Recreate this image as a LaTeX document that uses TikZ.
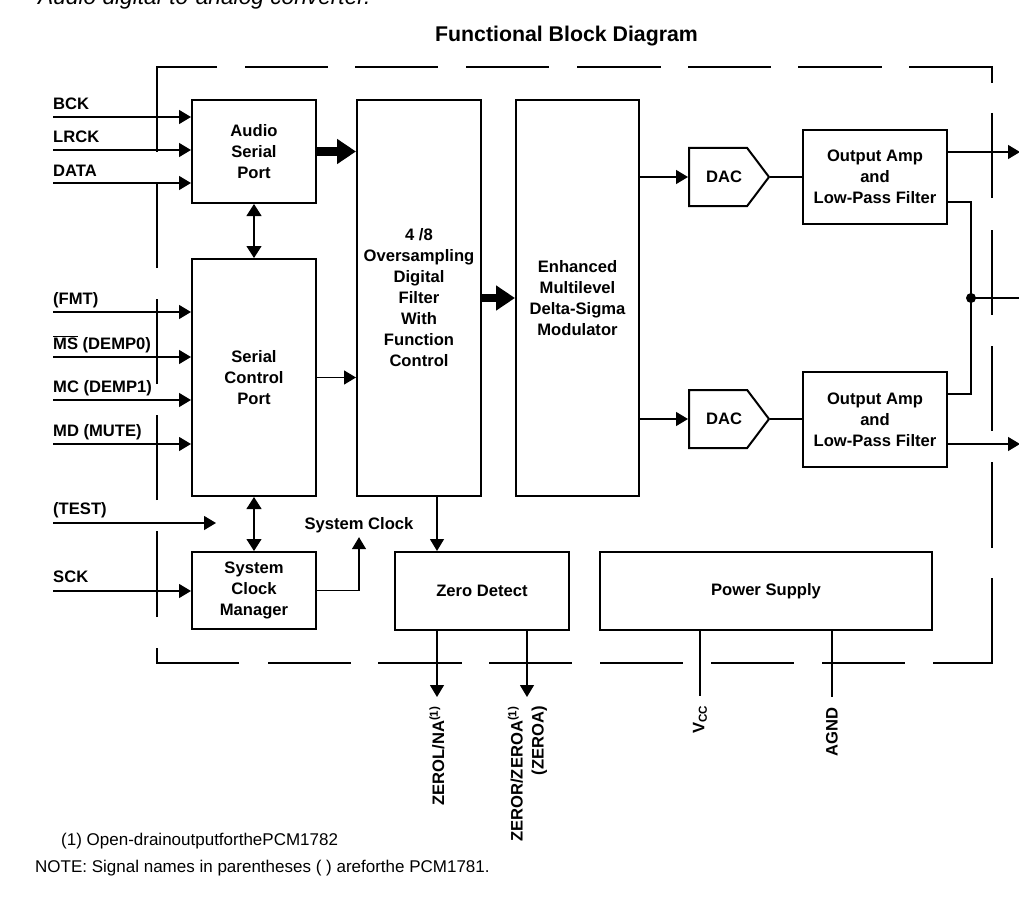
\documentclass[tikz,border=0pt]{standalone}
\usepackage{fontspec}
\setmainfont{Liberation Sans}
\usetikzlibrary{arrows.meta,shapes.symbols}
\begin{document}
\begin{tikzpicture}[x=1pt,y=-1pt,
  every node/.style={font=\bfseries\fontsize{16.6}{21}\selectfont, inner sep=0pt},
  box/.style={draw, line width=2pt, align=center},
  dacbox/.style={draw, line width=2pt, shape=signal, signal to=east, signal pointer angle=106, minimum width=80pt, minimum height=58pt, anchor=west},
  wire/.style={line width=1.2pt},
  arr/.style={wire, -{Triangle[length=12pt,width=14pt]}},
  darr/.style={wire, {Triangle[length=12pt,width=15pt]}-{Triangle[length=12pt,width=15pt]}},
  fat/.style={line width=8.5pt, -{Triangle[length=19pt,width=24pt]}},
  border/.style={line width=2.6pt},
  lab/.style={anchor=base west},
  vlab/.style={rotate=90, anchor=east, align=right},
  note/.style={anchor=base west, font=\fontsize{17}{20}\selectfont},
]
\useasboundingbox (0,0) rectangle (1019,896);

% caption cut at top
\node[anchor=base west, font=\itshape\fontsize{22.7}{26}\selectfont] (cap) at (38,4.5) {Audio digital-to-analog converter.};
\node[anchor=base, font=\bfseries\fontsize{21.3}{25}\selectfont] (title) at (566.5,42) {Functional Block Diagram};

% dashed border
\draw[border] (217,67) -- (157,67) -- (157,152);
\draw[border] (245,67) -- (328,67) (355,67) -- (438,67) (466,67) -- (549,67) (577,67) -- (661,67) (688,67) -- (771,67) (798,67) -- (882,67);
\draw[border] (909,67) -- (992,67) -- (992,83);
\draw[border] (992,113) -- (992,198) (992,230) -- (992,315) (992,346) -- (992,431) (992,462) -- (992,548);
\draw[border] (992,578) -- (992,663) -- (933,663);
\draw[border] (822,663) -- (905,663) (711,663) -- (794,663) (600,663) -- (683,663) (489,663) -- (572,663) (378,663) -- (462,663) (268,663) -- (351,663);
\draw[border] (239,663) -- (157,663) -- (157,648);
\draw[border] (157,617) -- (157,531) (157,500) -- (157,415) (157,384) -- (157,299) (157,268) -- (157,183);

% blocks
\node[box, minimum width=124pt, minimum height=103pt] (asp) at (254,151.5) {Audio\\Serial\\Port};
\node[box, minimum width=124pt, minimum height=237pt] (scp) at (254,377.5) {Serial\\Control\\Port};
\node[box, minimum width=124pt, minimum height=77pt] (scm) at (254,590.5) {System\\Clock\\Manager};
\node[box, minimum width=124pt, minimum height=396pt] (filt) at (419,298) {4 /8\\Oversampling\\Digital\\Filter\\With\\Function\\Control};
\node[box, minimum width=123pt, minimum height=396pt] (mod) at (577.5,298) {Enhanced\\Multilevel\\Delta-Sigma\\Modulator};
\node[dacbox] (dac1) at (688,177) {\hspace*{12pt}DAC};
\node[dacbox] (dac2) at (688,419) {\hspace*{12pt}DAC};
\node[box, minimum width=144pt, minimum height=94pt] (amp1) at (875,177) {Output Amp\\and\\Low-Pass Filter};
\node[box, minimum width=144pt, minimum height=95pt] (amp2) at (875,419.5) {Output Amp\\and\\Low-Pass Filter};
\node[box, minimum width=174pt, minimum height=78pt] (zd) at (482,591) {Zero Detect};
\node[box, minimum width=332pt, minimum height=78pt] (ps) at (766,591) {Power Supply};

% input labels
\node[lab] (lbck) at (53,110) {BCK};
\node[lab] (llrck) at (53,143) {LRCK};
\node[lab] (ldata) at (53,176) {DATA};
\node[lab] (lfmt) at (53,304) {(FMT)};
\node[lab] (lms) at (53,349) {$\overline{\mbox{MS}}$ (DEMP0)};
\node[lab] (lmc) at (53,392.5) {MC (DEMP1)};
\node[lab] (lmd) at (53,436.5) {MD (MUTE)};
\node[lab] (ltest) at (53,514) {(TEST)};
\node[lab] (lsck) at (53,582) {SCK};

\coordinate (iBCK) at (53,117);
\coordinate (iLRCK) at (53,150);
\coordinate (iDATA) at (53,183);
\coordinate (iFMT) at (53,312);
\coordinate (iMS) at (53,357);
\coordinate (iMC) at (53,400);
\coordinate (iMD) at (53,444);
\coordinate (iTEST) at (53,523);
\coordinate (eTEST) at (216,523);
\coordinate (iSCK) at (53,591);

\draw[arr] (iBCK) -- (iBCK -| asp.west);
\draw[arr] (iLRCK) -- (iLRCK -| asp.west);
\draw[arr] (iDATA) -- (iDATA -| asp.west);
\draw[arr] (iFMT) -- (iFMT -| scp.west);
\draw[arr] (iMS) -- (iMS -| scp.west);
\draw[arr] (iMC) -- (iMC -| scp.west);
\draw[arr] (iMD) -- (iMD -| scp.west);
\draw[arr] (iTEST) -- (eTEST);
\draw[arr] (iSCK) -- (iSCK -| scm.west);

% internal connections
\draw[darr] (asp.south) -- (scp.north);
\draw[darr] (scp.south) -- (scm.north);
\draw[fat] (asp.east) -- (asp.east -| filt.west);
\draw[fat] (filt.east) -- (mod.west);
\draw[arr] (scp.east) -- (scp.east -| filt.west);

\node[anchor=base] (sysclk) at (359,529) {System Clock};
\draw[arr] (scm.east) -| ([yshift=-4.5pt]sysclk.south);

\coordinate (fz) at (437,496);
\draw[arr] (fz) -- (fz |- zd.north);

\draw[arr] (mod.east |- dac1.west) -- (dac1.west);
\draw[arr] (mod.east |- dac2.west) -- (dac2.west);
\draw[wire] (dac1.east) -- (dac1.east -| amp1.west);
\draw[wire] (dac2.east) -- (dac2.east -| amp2.west);

\coordinate (o1) at (1020,152);
\coordinate (o2) at (1020,444);
\coordinate (j) at (971,298);
\coordinate (oj) at (1019,298);
\draw[arr] (amp1.east |- o1) -- (o1);
\draw[arr] (amp2.east |- o2) -- (o2);
\draw[wire] ([yshift=-25pt]amp1.east) -| (j) |- ([yshift=25.5pt]amp2.east);
\draw[wire] (j) -- (oj);
\fill (j) circle (5pt);

% bottom pins
\coordinate (z1) at (437,697);
\coordinate (z2) at (527,697);
\coordinate (vcc) at (700,696);
\coordinate (agnd) at (832,697);
\draw[arr] (zd.south -| z1) -- (z1);
\draw[arr] (zd.south -| z2) -- (z2);
\draw[wire] (ps.south -| vcc) -- (vcc);
\draw[wire] (ps.south -| agnd) -- (agnd);

\node[vlab] (lz1) at (437,706) {ZEROL/NA\textsuperscript{(1)}};
\node[vlab] (lz2) at (527.5,706) {ZEROR/ZEROA\textsuperscript{(1)}\\(ZEROA)};
\node[vlab] (lvcc) at (700,705) {V\textsubscript{CC}};
\node[vlab] (lagnd) at (832,707) {AGND};

% notes
\node[note] (n1) at (61,845) {(1) Open-drainoutputforthePCM1782};
\node[note] (n2) at (35,872) {NOTE: Signal names in parentheses ( ) areforthe PCM1781.};
\end{tikzpicture}
\end{document}
